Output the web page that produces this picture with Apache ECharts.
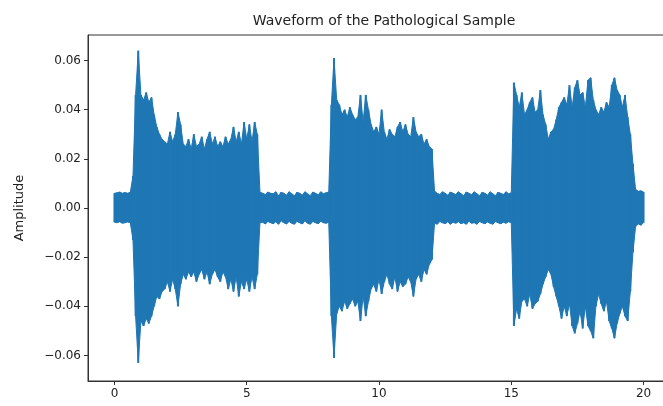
<!DOCTYPE html>
<html>
<head>
<meta charset="utf-8">
<script src="https://cdn.jsdelivr.net/npm/echarts@6/dist/echarts.min.js"></script>
<style>
  html, body { margin: 0; padding: 0; background: #fff; }
  #chart { width: 663px; height: 406px; }
</style>
</head>
<body>
<div id="chart"></div>
<script>
(function() {
  'use strict';

  // envelope of the waveform, one value every 0.1 s
  var step = 0.1;
  var upper = [
    0.006, 0.0062, 0.0065, 0.006, 0.0063, 0.006, 0.0064, 0.013, 0.046, 0.064,
    0.046, 0.044, 0.047, 0.043, 0.045, 0.038, 0.033, 0.030, 0.028, 0.027,
    0.026, 0.031, 0.027, 0.030, 0.039, 0.034, 0.026, 0.025, 0.028, 0.024,
    0.030, 0.025, 0.026, 0.029, 0.024, 0.028, 0.031, 0.026, 0.029, 0.025,
    0.027, 0.025, 0.029, 0.026, 0.028, 0.033, 0.027, 0.031, 0.026, 0.035,
    0.028, 0.034, 0.027, 0.035, 0.030, 0.0065, 0.006, 0.0055, 0.0065, 0.006,
    0.0058, 0.0066, 0.005, 0.0064, 0.006, 0.0052, 0.0066, 0.0058, 0.005, 0.0064,
    0.006, 0.0052, 0.0066, 0.0058, 0.005, 0.0065, 0.006, 0.0054, 0.0066, 0.0058,
    0.0062, 0.0065, 0.042, 0.061, 0.044, 0.042, 0.038, 0.040, 0.037, 0.041,
    0.038, 0.036, 0.037, 0.046, 0.035, 0.046, 0.040, 0.034, 0.031, 0.033,
    0.030, 0.040, 0.031, 0.028, 0.032, 0.030, 0.029, 0.033, 0.035, 0.031,
    0.034, 0.030, 0.029, 0.037, 0.031, 0.029, 0.030, 0.026, 0.028, 0.025,
    0.024, 0.0068, 0.006, 0.0055, 0.0066, 0.006, 0.0052, 0.0065, 0.006, 0.0055,
    0.0066, 0.0058, 0.005, 0.0065, 0.006, 0.0054, 0.0066, 0.0058, 0.005, 0.0064,
    0.006, 0.0052, 0.0066, 0.0058, 0.005, 0.0064, 0.006, 0.0055, 0.0066, 0.0058,
    0.0062, 0.051, 0.046, 0.041, 0.047, 0.038, 0.040, 0.043, 0.045, 0.039,
    0.040, 0.048, 0.038, 0.034, 0.028, 0.031, 0.032, 0.036, 0.041, 0.043,
    0.045, 0.042, 0.050, 0.041, 0.049, 0.052, 0.046, 0.047, 0.041, 0.052,
    0.053, 0.044, 0.040, 0.038, 0.041, 0.039, 0.043, 0.041, 0.050, 0.053,
    0.048, 0.046, 0.041, 0.046, 0.037, 0.030, 0.018, 0.0075, 0.0068, 0.007,
    0.0065
  ];
  var lower = [
    -0.0058, -0.006, -0.0056, -0.0062, -0.006, -0.0057, -0.006, -0.013, -0.044, -0.063,
    -0.046, -0.048, -0.045, -0.047, -0.044, -0.040, -0.036, -0.037, -0.034, -0.033,
    -0.030, -0.034, -0.029, -0.033, -0.040, -0.031, -0.027, -0.029, -0.026, -0.028,
    -0.026, -0.030, -0.027, -0.025, -0.029, -0.026, -0.031, -0.027, -0.025, -0.028,
    -0.030, -0.026, -0.028, -0.033, -0.029, -0.034, -0.028, -0.036, -0.030, -0.033,
    -0.029, -0.034, -0.028, -0.033, -0.027, -0.006, -0.0058, -0.0065, -0.0055, -0.006,
    -0.0064, -0.0056, -0.0066, -0.0052, -0.006, -0.0065, -0.0055, -0.0062, -0.0066, -0.0054,
    -0.006, -0.0065, -0.0052, -0.0062, -0.0066, -0.0055, -0.006, -0.0064, -0.0054, -0.006,
    -0.0062, -0.0058, -0.044, -0.061, -0.043, -0.040, -0.042, -0.038, -0.041, -0.039,
    -0.037, -0.040, -0.038, -0.046, -0.036, -0.044, -0.038, -0.033, -0.031, -0.034,
    -0.029, -0.035, -0.030, -0.027, -0.031, -0.033, -0.028, -0.034, -0.030, -0.032,
    -0.031, -0.028, -0.030, -0.036, -0.029, -0.027, -0.030, -0.025, -0.027, -0.023,
    -0.021, -0.0062, -0.0066, -0.0055, -0.006, -0.0064, -0.0056, -0.0066, -0.0058, -0.0062,
    -0.0056, -0.0064, -0.006, -0.0066, -0.0054, -0.0062, -0.006, -0.0066, -0.0055, -0.006,
    -0.0064, -0.0057, -0.0062, -0.0066, -0.0055, -0.006, -0.0064, -0.0058, -0.0062, -0.0056,
    -0.006, -0.048, -0.041, -0.045, -0.038, -0.037, -0.040, -0.035, -0.041, -0.039,
    -0.038, -0.035, -0.031, -0.028, -0.025, -0.027, -0.032, -0.036, -0.040, -0.045,
    -0.040, -0.044, -0.039, -0.048, -0.051, -0.047, -0.042, -0.049, -0.040, -0.048,
    -0.050, -0.053, -0.040, -0.035, -0.039, -0.042, -0.038, -0.046, -0.049, -0.053,
    -0.047, -0.043, -0.040, -0.044, -0.046, -0.034, -0.018, -0.0075, -0.0065, -0.007,
    -0.006
  ];
  var xTicks = [0, 5, 10, 15, 20];
  var yTicks = [-0.06, -0.04, -0.02, 0, 0.02, 0.04, 0.06];

  var top = [];
  var bottom = [];
  for (var i = 0; i < upper.length; i++) {
    top.push([i * step, upper[i]]);
    bottom.push([i * step, lower[i]]);
  }

  var font = 'DejaVu Sans';
  var blue = '#1f77b4';
  var chart = echarts.init(document.getElementById('chart'), null, { renderer: 'canvas' });

  // filled body of one half of the waveform
  function body(data) {
    return {
      type: 'line',
      data: data,
      showSymbol: false,
      sampling: false,
      lineStyle: { width: 1, color: blue },
      areaStyle: { color: blue, opacity: 1, origin: 0 },
      itemStyle: { color: blue },
      z: 1
    };
  }

  // thin bars on top give the jagged, spiky edge
  function spikes(data) {
    return {
      type: 'bar',
      data: data,
      barWidth: 2,
      barGap: '-100%',
      itemStyle: { color: blue },
      z: 2
    };
  }

  chart.setOption({
    animation: false,
    title: {
      text: 'Waveform of the Pathological Sample',
      left: 379,
      top: 9,
      textAlign: 'center',
      textStyle: { fontFamily: font, fontSize: 14, fontWeight: 'normal', color: '#222' }
    },
    grid: {
      left: 88,
      top: 35,
      width: 582,
      height: 346,
      outerBoundsMode: 'none',
      containLabel: false,
      show: true,
      borderColor: '#333',
      borderWidth: 1,
      backgroundColor: 'transparent'
    },
    xAxis: {
      type: 'value',
      min: -1,
      max: 21,
      axisLine: { onZero: false, lineStyle: { color: '#333' } },
      axisTick: { inside: false, length: 4, customValues: xTicks, lineStyle: { color: '#333' } },
      axisLabel: {
        customValues: xTicks,
        margin: 7,
        fontFamily: font,
        fontSize: 12,
        color: '#222'
      },
      splitLine: { show: false }
    },
    yAxis: {
      type: 'value',
      min: -0.0704,
      max: 0.0704,
      name: 'Amplitude',
      nameLocation: 'middle',
      nameGap: 62,
      nameTextStyle: { fontFamily: font, fontSize: 13, color: '#222' },
      axisLine: { show: true, onZero: false, lineStyle: { color: '#333' } },
      axisTick: { show: true, inside: false, length: 4, customValues: yTicks, lineStyle: { color: '#333' } },
      axisLabel: {
        customValues: yTicks,
        margin: 7,
        fontFamily: font,
        fontSize: 12,
        color: '#222',
        formatter: function(v) {
          var s = Math.abs(v).toFixed(2);
          return v < -1e-9 ? '\u2212' + s : s;
        }
      },
      splitLine: { show: false }
    },
    series: [body(top), body(bottom), spikes(top), spikes(bottom)]
  });
}());
</script>
</body>
</html>
